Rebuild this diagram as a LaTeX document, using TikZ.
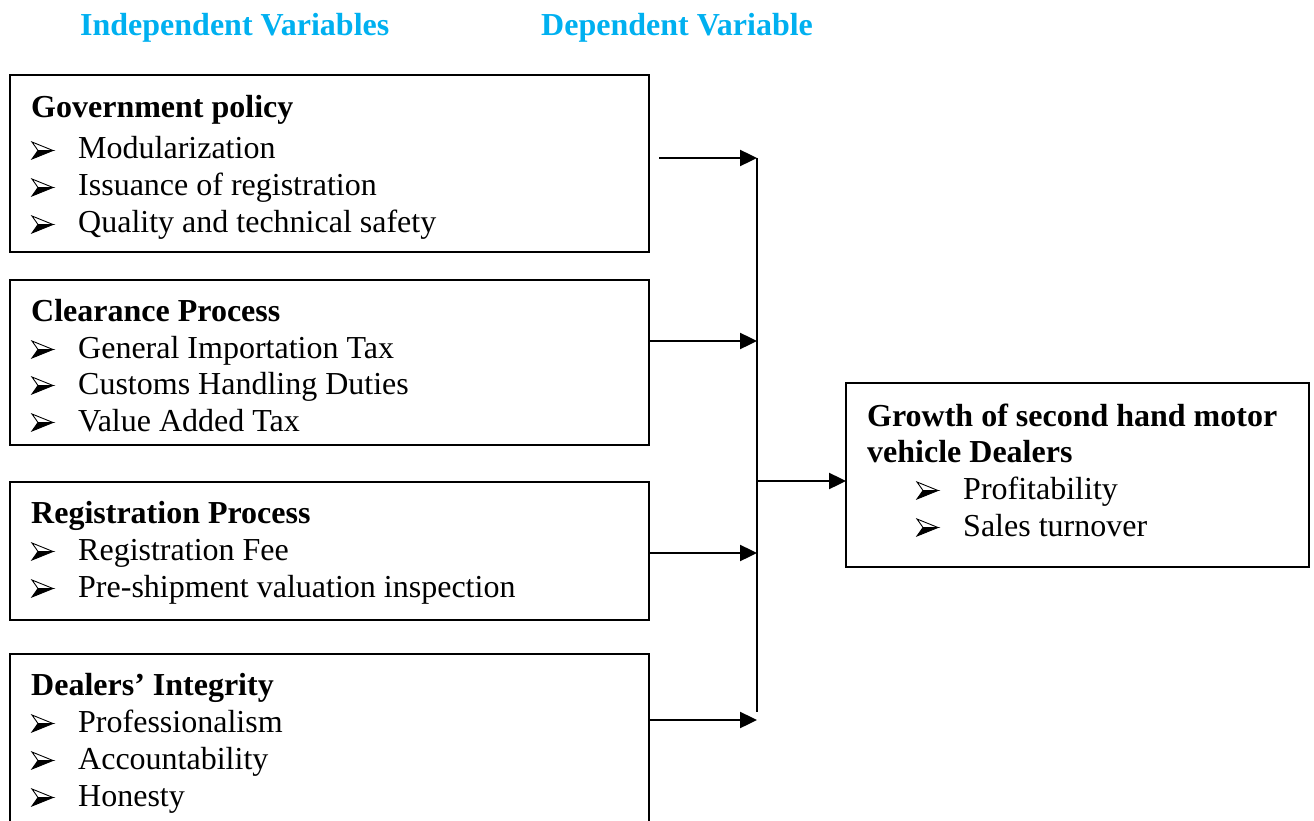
\documentclass[tikz,border=0pt]{standalone}
\usepackage{fontspec}
\setmainfont{Liberation Serif}
\usetikzlibrary{arrows.meta}
\definecolor{titleblue}{HTML}{00B0F0}
\begin{document}
\begin{tikzpicture}[x=1pt,y=-1pt,
  box/.style={draw, line width=1.9pt, anchor=north west, inner sep=0pt, outer sep=0pt},
  txt/.style={anchor=base west, inner sep=0pt, font=\fontsize{32}{37}\selectfont},
  head/.style={anchor=base west, inner sep=0pt, font=\fontsize{32}{37}\selectfont\bfseries},
  ttl/.style={anchor=base west, inner sep=0pt, text=titleblue, font=\fontsize{32}{37}\selectfont\bfseries},
  conn/.style={line width=2.4pt},
  arr/.style={conn, -{Triangle[length=17pt,width=16pt]}},
  arrbul/.pic={
    \filldraw[fill=white, draw=black, line width=0.9pt, line join=miter] (0,-17) -- (21,-8.5) -- (6,-8.5) -- cycle;
    \filldraw[fill=black, draw=black, line width=0.9pt, line join=miter] (0,0) -- (21,-8.5) -- (6,-8.5) -- cycle;
  }
]
\useasboundingbox (0,0) rectangle (1314,821);

% titles
\node[ttl] (tind) at (80,36) {Independent Variables};
\node[ttl] (tdep) at (541,36) {Dependent Variable};

% boxes
\node[box, minimum width=639pt, minimum height=177pt] (b1) at (10,75) {};
\node[box, minimum width=639pt, minimum height=165pt] (b2) at (10,280) {};
\node[box, minimum width=639pt, minimum height=138pt] (b3) at (10,482) {};
\node[box, minimum width=639pt, minimum height=176pt] (b4) at (10,654) {};
\node[box, minimum width=463pt, minimum height=184pt] (rb) at (846,383) {};

% box 1
\node[head] (h1) at (31,118) {Government policy};
\pic at (32,159) {arrbul};
\node[txt] (i11) at (78,159) {Modularization};
\pic at (32,196) {arrbul};
\node[txt] (i12) at (78,196) {Issuance of registration};
\pic at (32,233) {arrbul};
\node[txt] (i13) at (78,233) {Quality and technical safety};

% box 2
\node[head] (h2) at (31,321) {Clearance Process};
\pic at (32,358) {arrbul};
\node[txt] (i21) at (78,358) {General Importation Tax};
\pic at (32,394) {arrbul};
\node[txt] (i22) at (78,394) {Customs Handling Duties};
\pic at (32,431) {arrbul};
\node[txt] (i23) at (78,431) {Value Added Tax};

% box 3
\node[head] (h3) at (31,523) {Registration Process};
\pic at (32,560) {arrbul};
\node[txt] (i31) at (78,560) {Registration Fee};
\pic at (32,597) {arrbul};
\node[txt] (i32) at (78,597) {Pre-shipment valuation inspection};

% box 4
\node[head] (h4) at (31,695) {Dealers’ Integrity};
\pic at (32,732) {arrbul};
\node[txt] (i41) at (78,732) {Professionalism};
\pic at (32,769) {arrbul};
\node[txt] (i42) at (78,769) {Accountability};
\pic at (32,806) {arrbul};
\node[txt] (i43) at (78,806) {Honesty};

% right box
\node[head] (hr1) at (867,426) {Growth of second hand motor};
\node[head] (hr2) at (867,462) {vehicle Dealers};
\pic at (917,499) {arrbul};
\node[txt] (ir1) at (963,499) {Profitability};
\pic at (917,536) {arrbul};
\node[txt] (ir2) at (963,536) {Sales turnover};

% connectors
\coordinate (s1) at (659,158);
\coordinate (s2) at (649,341);
\coordinate (s3) at (649,553);
\coordinate (s4) at (649,720);
\coordinate (e1) at (757,158);
\coordinate (e2) at (757,341);
\coordinate (e3) at (757,553);
\coordinate (e4) at (757,720);
\coordinate (vbot) at (757,712);
\coordinate (jm) at (757,481);
\coordinate (em) at (846,481);

\draw[conn] (e1) -- (vbot);
\draw[arr] (s1) -- (e1);
\draw[arr] (s2) -- (e2);
\draw[arr] (s3) -- (e3);
\draw[arr] (s4) -- (e4);
\draw[arr] (jm) -- (em);
\end{tikzpicture}
\end{document}
